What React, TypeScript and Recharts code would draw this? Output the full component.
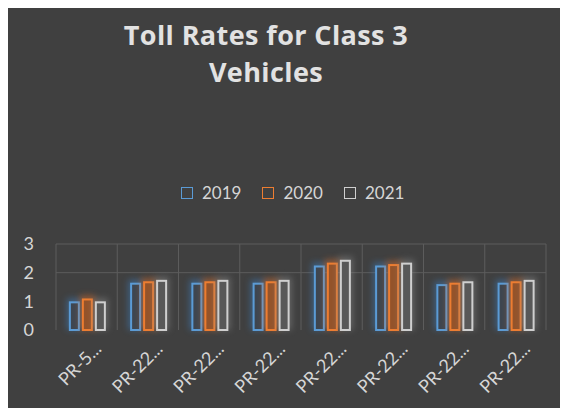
import React from "react";
import { BarChart, Bar, XAxis, YAxis, CartesianGrid, Legend } from "recharts";

const categories = ["PR-5...", "PR-22...", "PR-22...", "PR-22...", "PR-22...", "PR-22...", "PR-22...", "PR-22..."];
const series2019 = [1.0, 1.65, 1.65, 1.65, 2.25, 2.25, 1.6, 1.65];
const series2020 = [1.1, 1.7, 1.7, 1.7, 2.35, 2.3, 1.65, 1.7];
const series2021 = [1.0, 1.75, 1.75, 1.75, 2.45, 2.35, 1.7, 1.75];
const yTicks = [0, 1, 2, 3];
const gridValues = [3, 2];
const seriesNames = ["2019", "2020", "2021"];

const data = categories.map((c, i) => ({
  id: i,
  name: c,
  "2019": series2019[i],
  "2020": series2020[i],
  "2021": series2021[i],
}));

const FONT = "Lato, 'Open Sans', sans-serif";
const TITLE_FONT = "'Open Sans', Lato, sans-serif";
const BG = "#404040";
const Y_MAX = yTicks[yTicks.length - 1];

const styles: Record<string, { stroke: string; fill: string; glow: string }> = {
  "2019": { stroke: "#5b9bd5", fill: "#3e4650", glow: "#3d7fc0" },
  "2020": { stroke: "#ed7d31", fill: "#94532a", glow: "#e0702a" },
  "2021": { stroke: "#cfcfcf", fill: "#585858", glow: "#8a8a8a" },
};

const makeShape = (key: string) => (props: any) => {
  const { x, y, width, height } = props;
  const s = styles[key];
  return (
    <g>
      <rect x={x - 2} y={y - 3} width={width + 4} height={height + 3} fill={s.glow} opacity={0.5} filter="url(#glow)" />
      <rect x={x + 1} y={y + 1} width={Math.max(width - 2, 0)} height={Math.max(height - 1, 0)} fill={s.fill} stroke={s.stroke} strokeWidth={2} />
    </g>
  );
};

const XTick = (props: any) => {
  const { x, y, payload } = props;
  return (
    <g transform={`translate(${x + 16},${y + 12})`}>
      <text transform="rotate(-45)" textAnchor="end" fill="#d6d6d6" fontSize={18} fontFamily={FONT}>
        {categories[payload.value]}
      </text>
    </g>
  );
};

const renderLegend = () => (
  <div style={{ display: "flex", alignItems: "center", fontFamily: FONT, fontSize: 17, color: "#d6d6d6" }}>
    {seriesNames.map((n, i) => (
      <div key={n} style={{ display: "flex", alignItems: "center", marginRight: i < 2 ? 21 : 0 }}>
        <div style={{ width: 10, height: 10, border: `1.5px solid ${styles[n].stroke}`, marginRight: 9 }} />
        <span>{n}</span>
      </div>
    ))}
  </div>
);

export default function App() {
  return (
    <div style={{ position: "relative", width: 568, height: 416, margin: -8, background: "#f4f4f4", overflow: "hidden" }}>
      <div style={{ position: "absolute", left: 6, top: 6, width: 562, height: 410, background: BG, borderLeft: "1px solid #9a9a9a", borderTop: "1px solid #9a9a9a", boxSizing: "border-box" }} />
      <div style={{ position: "absolute", left: 0, width: 532, top: 16, textAlign: "center", fontFamily: TITLE_FONT, fontWeight: 700, fontSize: 27, lineHeight: "37px", letterSpacing: 0.4, color: "#e2e2e2" }}>
        Toll Rates for Class 3
        <br />
        Vehicles
      </div>
      <div style={{ position: "absolute", left: 0, top: 0 }}>
        <BarChart
          width={568}
          height={416}
          data={data}
          margin={{ top: 244, right: 22, left: 16, bottom: 26 }}
          barCategoryGap="21%"
          barGap={2}
        >
          <defs>
            <filter id="glow" x="-50%" y="-50%" width="200%" height="200%">
              <feGaussianBlur stdDeviation="3" />
            </filter>
          </defs>
          <CartesianGrid
            stroke="#5c5c5c"
            strokeWidth={1}
            horizontalCoordinatesGenerator={(p: any) => {
              const o = p.offset;
              return gridValues.map((v) => o.top + o.height * (1 - v / Y_MAX));
            }}
            verticalCoordinatesGenerator={(p: any) => {
              const o = p.offset;
              return categories.map((_, i) => o.left + (i * o.width) / categories.length).concat([o.left + o.width]);
            }}
          />
          <XAxis dataKey="id" axisLine={false} tickLine={false} height={60} interval={0} tick={<XTick />} />
          <YAxis domain={[0, Y_MAX]} ticks={yTicks} axisLine={false} tickLine={false} width={40} tickMargin={16} tick={{ fill: "#d6d6d6", fontSize: 18, fontFamily: FONT }} />
          <Legend verticalAlign="middle" align="center" content={renderLegend} wrapperStyle={{ top: 182, left: 181, width: 240, height: 22 }} />
          {seriesNames.map((n) => (
            <Bar key={n} dataKey={n} isAnimationActive={false} shape={makeShape(n)} />
          ))}
        </BarChart>
      </div>
    </div>
  );
}
